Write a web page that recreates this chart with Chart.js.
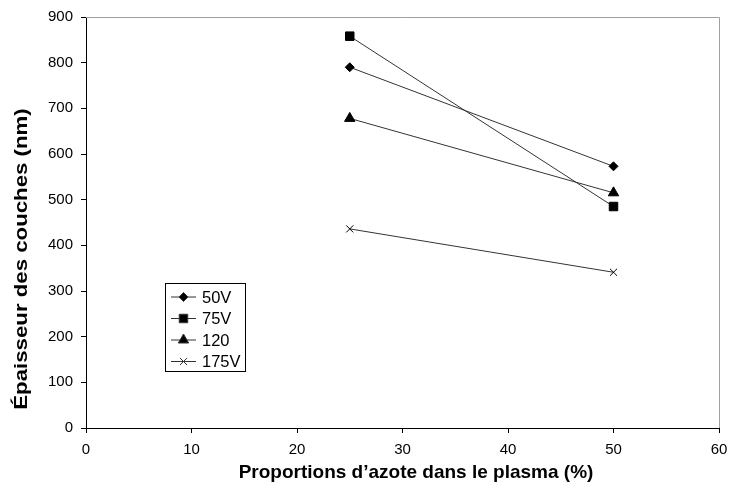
<!DOCTYPE html>
<html>
<head>
<meta charset="utf-8">
<script src="https://cdn.jsdelivr.net/npm/chart.js@4"></script>
<style>
  html, body { margin: 0; padding: 0; background: #fff; }
  #wrap { width: 729px; height: 493px; }
</style>
</head>
<body>
<div id="wrap"><canvas id="graphique"></canvas></div>
<script>
// données
const proportions = [25, 50];
const serie50V = [790, 573];
const serie75V = [858, 485];
const serie120 = [678, 515];
const serie175V = [436, 341];
const nomsSeries = ['50V', '75V', '120', '175V'];
const titreY = 'Épaisseur des couches (nm)';
const titreX = 'Proportions d’azote dans le plasma (%)';

const police = "'Liberation Sans', Arial, sans-serif";

function pts(vals) {
  return proportions.map((x, i) => ({ x: x, y: vals[i] }));
}

// bordure grise haut/droite, titres des axes + légende
const cadre = {
  id: 'cadre',
  afterDraw(chart) {
    const ctx = chart.ctx;
    const a = chart.chartArea;
    ctx.save();
    ctx.strokeStyle = '#a0a0a0';
    ctx.lineWidth = 1;
    ctx.beginPath();
    ctx.moveTo(a.left, a.top + 0.5);
    ctx.lineTo(a.right + 0.5, a.top + 0.5);
    ctx.lineTo(a.right + 0.5, a.bottom);
    ctx.stroke();

    ctx.fillStyle = '#000';
    ctx.textAlign = 'center';
    ctx.textBaseline = 'middle';
    ctx.font = 'bold 19px ' + police;

    // titre de l'axe X
    ctx.fillText(titreX, 416, 473);

    // titre de l'axe Y (un peu étiré comme l'original)
    ctx.save();
    ctx.translate(22, 259);
    ctx.rotate(-Math.PI / 2);
    ctx.scale(1.17, 1);
    ctx.fillText(titreY, 0, 0);
    ctx.restore();

    // légende
    const lx = 165, ly = 283, lw = 80, lh = 88;
    ctx.textAlign = 'left';
    ctx.strokeStyle = '#000';
    ctx.strokeRect(lx + 0.5, ly + 0.5, lw, lh);
    ctx.font = '16.5px ' + police;
    chart.data.datasets.forEach((ds, i) => {
      const y = ly + 14 + i * 21.5;
      ctx.strokeStyle = '#333';
      ctx.beginPath();
      ctx.moveTo(lx + 6, y);
      ctx.lineTo(lx + 31, y);
      ctx.stroke();
      Chart.helpers.drawPoint(ctx, {
        pointStyle: ds.pointStyle,
        radius: ds.pointRadius,
        borderWidth: 1
      }, lx + 18.5, y);
      ctx.fillStyle = '#000';
      ctx.fillText(ds.label, lx + 37, y + 1);
    });
    ctx.restore();
  }
};

function serie(label, vals, style, r) {
  return {
    label: label,
    data: pts(vals),
    borderColor: '#333',
    borderWidth: 1,
    pointStyle: style,
    pointRadius: r,
    pointBackgroundColor: '#000',
    pointBorderColor: '#000',
    pointBorderWidth: 1
  };
}

new Chart(document.getElementById('graphique'), {
  type: 'line',
  data: {
    datasets: [
      serie(nomsSeries[0], serie50V, 'rectRot', 4.5),
      serie(nomsSeries[1], serie75V, 'rect', 6),
      serie(nomsSeries[2], serie120, 'triangle', 6),
      serie(nomsSeries[3], serie175V, 'crossRot', 5)
    ]
  },
  options: {
    responsive: true,
    maintainAspectRatio: false,
    animation: false,
    layout: { padding: { top: 17, right: 10, left: 0, bottom: 0 } },
    plugins: {
      legend: { display: false },
      tooltip: { enabled: false }
    },
    scales: {
      x: {
        type: 'linear',
        min: 0,
        max: 60,
        ticks: { stepSize: 10, color: '#000', font: { family: police, size: 15 }, padding: 8 },
        grid: { drawOnChartArea: false, drawTicks: true, tickLength: 5, color: '#000' },
        border: { color: '#000', width: 1 },
        afterFit(axis) {
          axis.height = 65;
          axis.paddingLeft = 0;
          axis.paddingRight = 0;
        }
      },
      y: {
        min: 0,
        max: 900,
        ticks: { stepSize: 100, color: '#000', font: { family: police, size: 15 }, padding: 8 },
        grid: { drawOnChartArea: false, drawTicks: true, tickLength: 5, color: '#000' },
        border: { color: '#000', width: 1 },
        afterFit(axis) {
          axis.width = 86;
          axis.paddingTop = 0;
          axis.paddingBottom = 0;
        }
      }
    }
  },
  plugins: [cadre]
});
</script>
</body>
</html>
